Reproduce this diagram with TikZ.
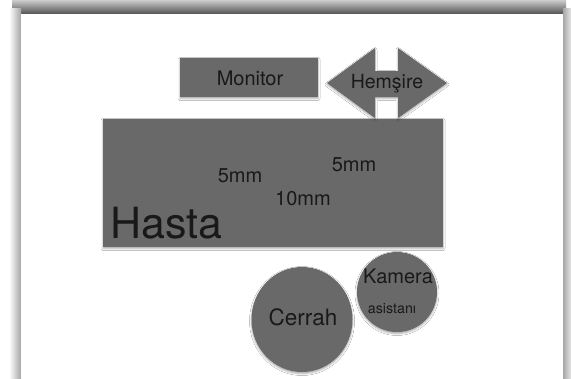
\documentclass[tikz,border=0pt]{standalone}
\usepackage{fontspec}
\setmainfont{TeX Gyre Heros}
\usetikzlibrary{shadows.blur,shapes.geometric}
\definecolor{boxgray}{gray}{0.41}
\definecolor{txt}{gray}{0.1}
\tikzset{
  shapebox/.style={fill=boxgray, draw=none, inner sep=0pt,
    blur shadow={shadow xshift=0pt, shadow yshift=-1.5pt, shadow blur radius=2pt, shadow opacity=35}},
  lbl/.style={text=txt, inner sep=0pt, anchor=base}
}
\begin{document}
\begin{tikzpicture}[x=1pt,y=-1pt]
\useasboundingbox (0,0) rectangle (571,378);
\fill[white] (0,0) rectangle (571,378);
% frame shadows
\shade[top color=black!20, bottom color=black!68] (12,0) rectangle (566,14);
\shade[left color=white, right color=black!35] (9,8) rectangle (21,378);
\shade[left color=black!35, right color=white!90!black] (563,8) rectangle (571,378);
\fill[white] (21,14) rectangle (563,378);
% shapes
\node[shapebox, rectangle, minimum width=138, minimum height=39] (monitor) at (249,77.5) {};
\node[shapebox, rectangle, minimum width=340, minimum height=128] (hasta) at (273,183) {};
\node[shapebox, ellipse, minimum width=101, minimum height=105] (cerrah) at (302,319.5) {};
\node[shapebox, circle, minimum size=80] (kamera) at (397,292) {};
\fill[boxgray, blur shadow={shadow xshift=0pt, shadow yshift=-1.5pt, shadow blur radius=2pt, shadow opacity=35}]
  (327,83) -- (375,48) -- (375,71) -- (398,71) -- (398,48) -- (447,83)
  -- (398,118) -- (398,97) -- (375,97) -- (375,118) -- cycle;
% labels
\node[lbl, font=\fontsize{20}{22}\selectfont] (tmonitor) at (250,85) {Monitor};
\node[lbl, font=\fontsize{19.5}{22}\selectfont] (themsire) at (387,88) {Hemşire};
\node[lbl, font=\fontsize{20}{22}\selectfont] (t5a) at (240,182) {5mm};
\node[lbl, font=\fontsize{20}{22}\selectfont] (t5b) at (354,171) {5mm};
\node[lbl, font=\fontsize{20}{22}\selectfont] (t10) at (303,205) {10mm};
\node[lbl, anchor=base west, font=\fontsize{43}{46}\selectfont] (thasta) at (110,238) {Hasta};
\node[lbl, font=\fontsize{22.5}{24}\selectfont] (tcerrah) at (303,325) {Cerrah};
\node[lbl, font=\fontsize{20}{22}\selectfont] (tkamera) at (398,283) {Kamera};
\node[lbl, font=\fontsize{14.2}{16}\selectfont] (tasist) at (392,313) {asistanı};
\end{tikzpicture}
\end{document}
